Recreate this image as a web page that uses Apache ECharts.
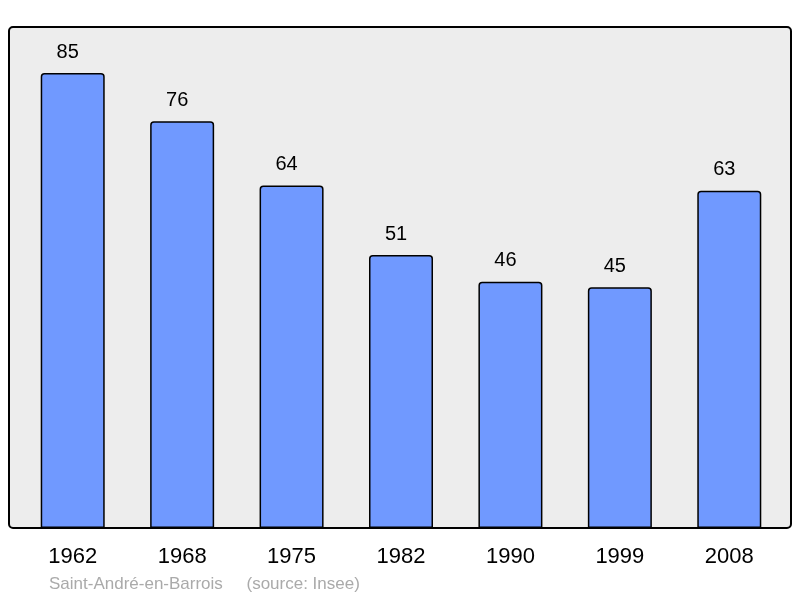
<!DOCTYPE html>
<html>
<head>
<meta charset="utf-8">
<script src="https://cdn.jsdelivr.net/npm/echarts@6/dist/echarts.min.js"></script>
<style>
  html, body { margin: 0; padding: 0; background: #fff; }
  #chart { width: 800px; height: 598px; }
</style>
</head>
<body>
<div id="chart"></div>
<script>
// population par recensement
var years = ['1962', '1968', '1975', '1982', '1990', '1999', '2008'];
var population = [85, 76, 64, 51, 46, 45, 63];
var yMax = 93.6;

var chart = echarts.init(document.getElementById('chart'));
var option = {
    animation: false,
    textStyle: { fontFamily: 'Liberation Sans, Arial, sans-serif' },
    graphic: [
        {
            type: 'rect',
            z: -10,
            shape: { x: 9, y: 27, width: 782, height: 501, r: 4 },
            style: { fill: '#ededed', stroke: '#000', lineWidth: 2 }
        },
        {
            type: 'text',
            left: 49,
            top: 576,
            style: {
                text: 'Saint-André-en-Barrois     (source: Insee)',
                fill: '#aaaaaa',
                fontSize: 17,
                fontFamily: 'Liberation Sans, Arial, sans-serif'
            }
        }
    ],
    grid: { left: 18, right: 16, top: 27, bottom: 70 },
    xAxis: {
        type: 'category',
        data: years,
        axisLine: { show: false },
        axisTick: { show: false },
        axisLabel: { color: '#000', fontSize: 22, margin: 18 }
    },
    yAxis: {
        type: 'value',
        min: 0,
        max: yMax,
        show: false,
        splitLine: { show: false }
    },
    series: [
        {
            type: 'bar',
            data: population,
            barWidth: 64,
            itemStyle: {
                color: '#7099ff',
                borderColor: '#000',
                borderWidth: 1.5,
                borderRadius: [3, 3, 0, 0]
            },
            label: {
                show: true,
                position: 'top',
                distance: 11,
                offset: [-5, 0],
                color: '#000',
                fontSize: 20
            }
        }
    ]
};
chart.setOption(option);
</script>
</body>
</html>
